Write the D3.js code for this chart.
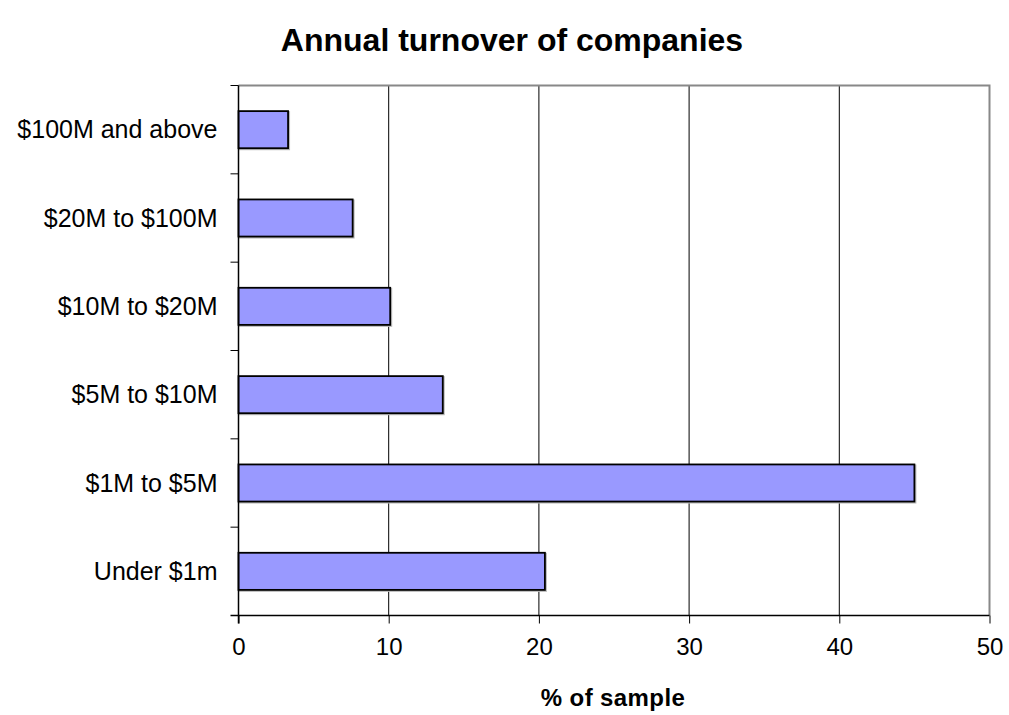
<!DOCTYPE html>
<html lang="en">
<head>
    <meta charset="UTF-8">
    <title>Annual turnover of companies</title>
    <script src="https://d3js.org/d3.v7.min.js"></script>
    <style>
        body { margin: 0; background: #fff; }
        svg text { font-family: "Liberation Sans", Arial, sans-serif; fill: #000; }
    </style>
</head>
<body>
<svg id="chart" width="1009" height="715"></svg>

<script type="text/javascript">
    // data
    var categories = ["$100M and above", "$20M to $100M", "$10M to $20M", "$5M to $10M", "$1M to $5M", "Under $1m"];
    var values = [3.3, 7.6, 10.1, 13.6, 45.0, 20.4];
    var xTicks = [0, 10, 20, 30, 40, 50];

    var svg = d3.select("#chart");

    // plot box
    var pLeft = 238.5, pRight = 989.5, pTop = 85.5, pBottom = 615.5;

    var x = d3.scaleLinear().domain([0, 50]).range([pLeft, pRight]);
    var y = d3.scaleBand().domain(categories).range([pTop, pBottom]).paddingInner(0.58).paddingOuter(0.29);
    var yTick = d3.scaleBand().domain(categories).range([pTop, pBottom]);

    // title
    svg.append("text")
        .attr("x", 512).attr("y", 51)
        .attr("text-anchor", "middle")
        .style("font-size", "32px").style("font-weight", "bold")
        .text("Annual turnover of companies");

    // gridlines
    svg.selectAll("line.grid")
        .data(xTicks.slice(1, -1))
        .enter().append("line")
        .attr("class", "grid")
        .attr("x1", function(d) { return x(d); })
        .attr("x2", function(d) { return x(d); })
        .attr("y1", pTop).attr("y2", pBottom)
        .attr("stroke", "#000").attr("stroke-width", 1);

    // plot border top / right
    svg.append("path")
        .attr("d", "M" + pLeft + "," + pTop + "H" + pRight + "V" + pBottom)
        .attr("fill", "none").attr("stroke", "#888").attr("stroke-width", 2);

    // bar shadows
    svg.selectAll("rect.shadow")
        .data(values)
        .enter().append("rect")
        .attr("class", "shadow")
        .attr("x", x(0) + 1)
        .attr("y", function(d, i) { return y(categories[i]) + 1; })
        .attr("width", function(d) { return x(d) - x(0); })
        .attr("height", y.bandwidth())
        .attr("fill", "none").attr("stroke", "#bbb").attr("stroke-width", 2);

    // bars
    svg.selectAll("rect.bar")
        .data(values)
        .enter().append("rect")
        .attr("class", "bar")
        .attr("x", x(0))
        .attr("y", function(d, i) { return y(categories[i]); })
        .attr("width", function(d) { return x(d) - x(0); })
        .attr("height", y.bandwidth())
        .attr("fill", "#9999ff").attr("stroke", "#000").attr("stroke-width", 1.8);

    // x axis
    var xAxis = svg.append("g")
        .attr("transform", "translate(0," + pBottom + ")")
        .call(d3.axisBottom(x).tickValues(xTicks).tickSize(8).tickPadding(14).tickSizeOuter(0));
    xAxis.select(".domain").attr("stroke", "#000").attr("stroke-width", 1.5)
        .attr("d", "M" + (pLeft - 8) + ",0H" + pRight);
    xAxis.selectAll(".tick line").attr("stroke", "#000");
    xAxis.selectAll(".tick text")
        .attr("fill", "#000")
        .style("font-size", "24px")
        .style("font-family", "Liberation Sans, Arial, sans-serif");

    // y axis: ticks at category boundaries
    var yAxis = svg.append("g").attr("transform", "translate(" + pLeft + ",0)");
    yAxis.append("line")
        .attr("x1", 0).attr("x2", 0).attr("y1", pTop).attr("y2", pBottom + 8)
        .attr("stroke", "#000").attr("stroke-width", 1.5);
    yAxis.selectAll("line.ytick")
        .data(categories)
        .enter().append("line")
        .attr("class", "ytick")
        .attr("x1", -8).attr("x2", 0)
        .attr("y1", function(d) { return yTick(d); })
        .attr("y2", function(d) { return yTick(d); })
        .attr("stroke", "#000");
    yAxis.selectAll("text")
        .data(categories)
        .enter().append("text")
        .attr("x", -21)
        .attr("y", function(d) { return yTick(d) + yTick.bandwidth() / 2; })
        .attr("dy", "0.35em")
        .attr("text-anchor", "end")
        .style("font-size", "25px")
        .text(function(d) { return d; });

    // x axis title
    svg.append("text")
        .attr("x", 613).attr("y", 706)
        .attr("text-anchor", "middle")
        .style("font-size", "24px").style("font-weight", "bold")
        .style("letter-spacing", "0.4px")
        .text("% of sample");
</script>
</body>
</html>
